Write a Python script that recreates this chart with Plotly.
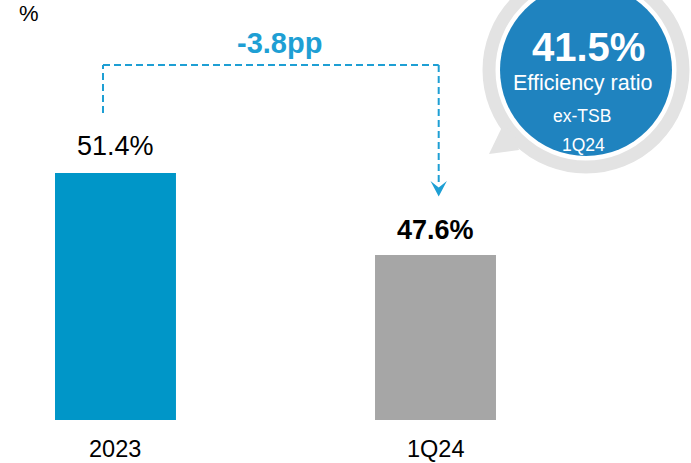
import plotly.graph_objects as go

# Efficiency ratio, %
periods = ["2023", "1Q24"]
ratios = [51.4, 47.6]
bar_colors = ["#0096c8", "#a6a6a6"]
change_label = "-3.8pp"
badge_value = "41.5%"
badge_lines = ["Efficiency ratio", "ex-TSB", "1Q24"]

W, H = 691, 463
MB = 43                      # bottom margin (room for category labels)
PH = H - MB                  # plot-area height in px

FONT = "Arial, Liberation Sans, sans-serif"
ARROW = "#1e9fd4"
BADGE = "#1f83bf"
RING = "#e3e3e3"


def X(px):
    return px / W


def Y(py):
    return (PH - py) / PH


fig = go.Figure()
fig.add_trace(go.Bar(
    x=periods, y=ratios, width=0.378,
    marker=dict(color=bar_colors, line=dict(width=0)),
    hoverinfo="skip",
))

annotations = []
# value labels above the bars and period labels below (x given as category index)
label_styles = [("{:.1f}%", 10), ("<b>{:.1f}%</b>", 8)]
for i, (val, (fmt, shift)) in enumerate(zip(ratios, label_styles)):
    annotations.append(dict(x=i, y=val, xref="x", yref="y",
                            text=fmt.format(val), showarrow=False,
                            xanchor="center", yanchor="bottom", yshift=shift,
                            font=dict(family=FONT, size=27, color="#000000")))
    annotations.append(dict(x=i, y=Y(449.3), xref="x", yref="paper",
                            text=periods[i], showarrow=False, borderpad=0,
                            xanchor="center", yanchor="middle",
                            font=dict(family=FONT, size=23.5, color="#000000")))
# unit label
annotations.append(dict(x=X(29), y=Y(13), xref="paper", yref="paper",
                        text="%", showarrow=False, xanchor="center", yanchor="middle",
                        font=dict(family=FONT, size=22, color="#000000")))
# change label
annotations.append(dict(x=X(279), y=Y(43), xref="paper", yref="paper",
                        text=f"<b>{change_label}</b>", showarrow=False,
                        xanchor="center", yanchor="middle",
                        font=dict(family=FONT, size=29, color=ARROW)))
# badge text
annotations.append(dict(x=X(588), y=Y(47), xref="paper", yref="paper",
                        text=f"<b>{badge_value}</b>", showarrow=False,
                        xanchor="center", yanchor="middle",
                        font=dict(family=FONT, size=40, color="#ffffff")))
for txt, cy, fs, cx in zip(badge_lines, [83, 115.5, 144.5], [21.5, 17.5, 17.5], [582.5, 582, 583]):
    annotations.append(dict(x=X(cx), y=Y(cy), xref="paper", yref="paper",
                            text=txt, showarrow=False,
                            xanchor="center", yanchor="middle",
                            font=dict(family=FONT, size=fs, color="#ffffff")))

shapes = []
dash = dict(color=ARROW, width=2, dash="7px,4px")
# bracket: up from 2023, across, down to 1Q24
shapes.append(dict(type="line", xref="paper", yref="paper",
                   x0=X(103), y0=Y(113), x1=X(103), y1=Y(65), line=dash))
shapes.append(dict(type="line", xref="paper", yref="paper",
                   x0=X(103), y0=Y(65), x1=X(438.7), y1=Y(65), line=dash))
shapes.append(dict(type="line", xref="paper", yref="paper",
                   x0=X(438.7), y0=Y(65), x1=X(438.7), y1=Y(184), line=dash))
# arrow head
head = [(438.7, 196.5), (430.5, 181), (438.7, 187.5), (446.9, 181)]
path = "M " + " L ".join(f"{X(a):.5f},{Y(b):.5f}" for a, b in head) + " Z"
shapes.append(dict(type="path", xref="paper", yref="paper", path=path,
                   fillcolor=ARROW, line=dict(width=0)))

# badge: grey speech-bubble ring with tail, blue disc inside
cx, cy = 586, 70
rr = 97
shapes.append(dict(type="circle", xref="paper", yref="paper",
                   x0=X(cx - rr), x1=X(cx + rr), y0=Y(cy - rr), y1=Y(cy + rr),
                   line=dict(color=RING, width=13), fillcolor="rgba(0,0,0,0)"))
tail = [(503, 125), (489, 154), (519, 150), (515, 135)]
tpath = "M " + " L ".join(f"{X(a):.5f},{Y(b):.5f}" for a, b in tail) + " Z"
shapes.append(dict(type="path", xref="paper", yref="paper", path=tpath,
                   fillcolor=RING, line=dict(width=0)))
rb = 86
shapes.append(dict(type="circle", xref="paper", yref="paper",
                   x0=X(cx - rb), x1=X(cx + rb), y0=Y(cy - rb), y1=Y(cy + rb),
                   line=dict(width=0), fillcolor=BADGE))

fig.update_layout(
    width=W, height=H,
    margin=dict(l=0, r=0, t=0, b=MB, autoexpand=False),
    paper_bgcolor="#ffffff", plot_bgcolor="#ffffff",
    showlegend=False,
    annotations=annotations,
    shapes=shapes,
    xaxis=dict(type="category", range=[-0.3609, 1.7984], automargin=False,
               showgrid=False, zeroline=False, showline=False,
               showticklabels=False, ticks="", fixedrange=True),
    yaxis=dict(range=[39.95, 39.95 + PH / 21.58], visible=False,
               automargin=False, fixedrange=True),
)

fig.write_html("out.html", config={"displayModeBar": False})
